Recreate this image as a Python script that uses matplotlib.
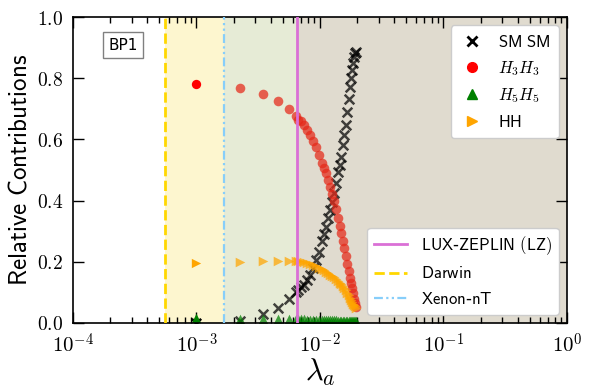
import numpy as np
import matplotlib
matplotlib.use("Agg")
import matplotlib.pyplot as plt
from matplotlib.lines import Line2D

plt.rcParams['mathtext.fontset'] = 'cm'

# scan points in lambda_a
lam = [1.0e-3, 2.25e-3, 3.45e-3, 4.57e-3, 5.60e-3, 6.40e-3,
       6.64e-3, 7.02e-3, 7.42e-3, 7.85e-3, 8.30e-3, 8.78e-3, 9.29e-3, 9.82e-3,
       10.39e-3, 10.78e-3, 11.19e-3, 11.62e-3, 12.06e-3, 12.52e-3, 13.00e-3,
       13.49e-3, 14.00e-3, 14.40e-3, 14.81e-3, 15.23e-3, 15.66e-3, 16.11e-3,
       16.56e-3, 17.03e-3, 17.52e-3, 17.85e-3, 18.19e-3, 18.53e-3, 18.88e-3,
       19.23e-3, 19.59e-3]

# relative contributions of each channel
sm_sm = [0.000, 0.008, 0.029, 0.048, 0.078, 0.100,
         0.108, 0.117, 0.124, 0.140, 0.158, 0.180, 0.205, 0.233,
         0.267, 0.290, 0.315, 0.343, 0.370, 0.396, 0.426,
         0.457, 0.495, 0.516, 0.543, 0.582, 0.615, 0.648,
         0.690, 0.733, 0.772, 0.800, 0.826, 0.850, 0.870,
         0.882, 0.886]
h3h3 = [0.782, 0.769, 0.749, 0.726, 0.700, 0.676,
        0.665, 0.659, 0.646, 0.632, 0.615, 0.594, 0.576, 0.550,
        0.522, 0.506, 0.489, 0.467, 0.443, 0.422, 0.400,
        0.374, 0.342, 0.318, 0.293, 0.269, 0.244, 0.220,
        0.194, 0.170, 0.146, 0.130, 0.114, 0.097, 0.080,
        0.064, 0.053]
h5h5 = [0.016, 0.014, 0.014, 0.013, 0.013, 0.013,
        0.012, 0.012, 0.012, 0.011, 0.011, 0.011, 0.011, 0.010,
        0.010, 0.010, 0.010, 0.010, 0.009, 0.009, 0.009,
        0.009, 0.008, 0.008, 0.008, 0.008, 0.007, 0.007,
        0.007, 0.007, 0.007, 0.006, 0.006, 0.006, 0.006,
        0.006, 0.006]
hh = [0.195, 0.200, 0.203, 0.203, 0.203, 0.203,
      0.202, 0.200, 0.198, 0.196, 0.193, 0.190, 0.186, 0.181,
      0.175, 0.172, 0.168, 0.163, 0.158, 0.154, 0.149,
      0.143, 0.137, 0.132, 0.127, 0.121, 0.114, 0.107,
      0.099, 0.091, 0.082, 0.076, 0.069, 0.062, 0.058,
      0.054, 0.050]

# experimental limits on lambda_a
lz_lim = 6.55e-3
darwin_lim = 5.6e-4
xenon_lim = 1.67e-3

xticks = [1e-4, 1e-3, 1e-2, 1e-1, 1]
xticklabels = ['$10^{-4}$', '$10^{-3}$', '$10^{-2}$', '$10^{-1}$', '$10^{0}$']
yticks = [0, 0.2, 0.4, 0.6, 0.8, 1.0]
yticklabels = ['$0.0$', '$0.2$', '$0.4$', '$0.6$', '$0.8$', '$1.0$']

fig = plt.figure(figsize=(5.9, 3.9), dpi=100)
ax = fig.add_axes([0.1237, 0.1718, 0.8373, 0.7846])

# shaded regions between limits
ax.axvspan(darwin_lim, xenon_lim, color='#fdf6cf', lw=0, zorder=0)
ax.axvspan(xenon_lim, lz_lim, color='#e6ebd6', lw=0, zorder=0)
ax.axvspan(lz_lim, 1.0, color='#e0dbcf', lw=0, zorder=0)

# (values, marker, legend colour, colour of the faded points, label)
series = [
    (sm_sm, 'x', 'black', 'black', r'$\mathsf{SM\ SM}$'),
    (h3h3, 'o', 'red', '#e52818', r'$H_3H_3$'),
    (h5h5, '^', 'green', 'green', r'$H_5H_5$'),
    (hh, '>', 'orange', 'orange', r'$\mathsf{HH}$'),
]
handles1 = []
for vals, mk, col, col2, lab in series:
    lw = 1.8 if mk == 'x' else 0
    ax.scatter(lam[:1], vals[:1], marker=mk, color=col, s=45, linewidths=lw, zorder=2)
    ax.scatter(lam[1:], vals[1:], marker=mk, color=col2, s=48, linewidths=lw, alpha=0.72, zorder=2)
    handles1.append(Line2D([], [], ls='none', marker=mk, color=col, markersize=7,
                           markeredgewidth=2 if mk == 'x' else 1, label=lab))

l_lz = ax.axvline(lz_lim, color='orchid', lw=2, zorder=3, label='$\\mathsf{LUX}$-$\\mathsf{ZEPLIN\\ (LZ)}$')
l_dw = ax.axvline(darwin_lim, color='gold', lw=2, ls='--', zorder=3, label=r'$\mathsf{Darwin}$')
l_xe = ax.axvline(xenon_lim, color='lightskyblue', lw=1.6, zorder=3,
                  dashes=(4, 1.5, 1, 1.5, 1, 1.5), label='$\\mathsf{Xenon}$-$\\mathsf{nT}$')

ax.set_xscale('log')
ax.set_xlim(1e-4, 1)
ax.set_ylim(0, 1)
ax.set_xticks(xticks)
ax.set_xticklabels(xticklabels)
ax.set_yticks(yticks)
ax.set_yticklabels(yticklabels)

ax.tick_params(which='both', direction='in', top=True, right=True)
ax.tick_params(axis='x', labelsize=15)
ax.tick_params(axis='y', labelsize=14)
ax.tick_params(which='major', length=8, width=1, pad=7)
ax.tick_params(which='minor', length=4.5, width=1)
for sp in ax.spines.values():
    sp.set_linewidth(1.2)

ax.set_xlabel(r'$\lambda_a$', fontsize=22, labelpad=0)
ax.set_ylabel(r'$\mathsf{Relative\ Contributions}$', fontsize=18, labelpad=4)

ax.text(0.101, 0.908, 'BP1', transform=ax.transAxes, ha='center', va='center', fontsize=11,
        bbox=dict(boxstyle='square,pad=0.35', fc='white', ec='gray', lw=1))

leg1 = ax.legend(handles=handles1, loc='upper right', fontsize=12, framealpha=1,
                 labelspacing=0.48, handlelength=1.6, handletextpad=0.8, borderpad=0.45)
ax.add_artist(leg1)
ax.legend(handles=[l_lz, l_dw, l_xe], loc='lower right', fontsize=12, framealpha=1,
          labelspacing=0.45, handlelength=2.0, borderpad=0.4)

fig.savefig('out.png', dpi=100)
